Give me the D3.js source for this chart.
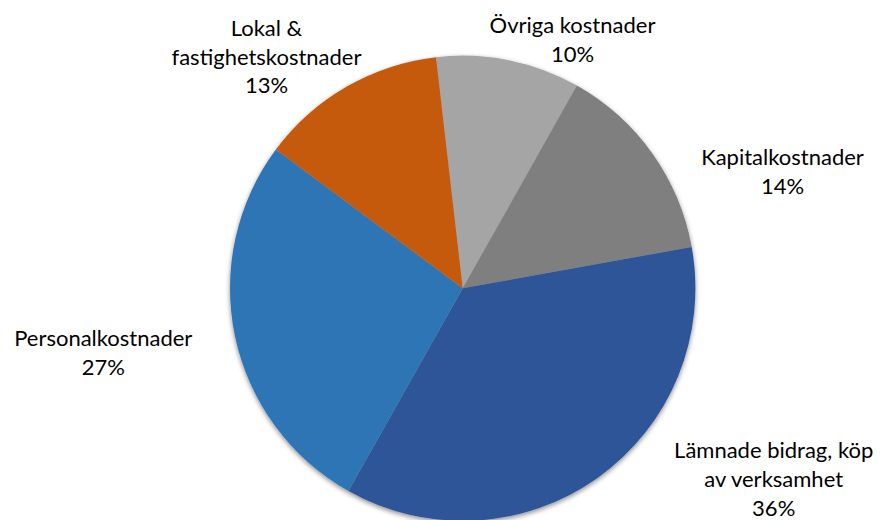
<!DOCTYPE html>
<html>
<head>
<meta charset="utf-8">
<script src="https://cdn.jsdelivr.net/npm/d3@7"></script>
<style>
  html, body { margin: 0; padding: 0; background: #fff; }
  svg { display: block; }
  text { font-family: Lato, "Open Sans", sans-serif; fill: #000; }
</style>
</head>
<body>
<svg id="chart" width="882" height="520"></svg>
<script>
// Cost breakdown, share of total (%)
const categories = [
  "Övriga kostnader",
  "Kapitalkostnader",
  "Lämnade bidrag, köp av verksamhet",
  "Personalkostnader",
  "Lokal & fastighetskostnader"
];
const shares = [10, 14, 36, 27, 13];
const labelLines = [
  ["Övriga kostnader"],
  ["Kapitalkostnader"],
  ["Lämnade bidrag, köp", "av verksamhet"],
  ["Personalkostnader"],
  ["Lokal &", "fastighetskostnader"]
];
const colors = ["#A5A5A5", "#7F7F7F", "#2F5597", "#2E75B6", "#C55A11"];

// Layout
const width = 882, height = 520;
const cx = 462.7, cy = 288.3, radius = 232.7;
const startDeg = -6.6;
const lineHeight = 28.6;
const fontSize = 22;
// label block centre x and first baseline y
const labelAnchors = [
  [572.5, 33.3],
  [782.5, 165],
  [773.7, 458.3],
  [103.3, 346],
  [266.5, 36]
];

const svg = d3.select("#chart");

const defs = svg.append("defs");
const shadow = defs.append("filter")
  .attr("id", "pieShadow")
  .attr("x", "-10%").attr("y", "-10%")
  .attr("width", "120%").attr("height", "120%");
shadow.append("feDropShadow")
  .attr("dx", 0).attr("dy", 2)
  .attr("stdDeviation", 2.5)
  .attr("flood-color", "#000")
  .attr("flood-opacity", 0.45);

const data = categories.map((c, i) => ({ name: c, value: shares[i], lines: labelLines[i], color: colors[i] }));

const startAngle = startDeg * Math.PI / 180;
const pie = d3.pie()
  .sort(null)
  .value(d => d.value)
  .startAngle(startAngle)
  .endAngle(startAngle + 2 * Math.PI);

const arc = d3.arc().innerRadius(0).outerRadius(radius);

const g = svg.append("g")
  .attr("transform", `translate(${cx},${cy})`)
  .attr("filter", "url(#pieShadow)");

g.selectAll("path")
  .data(pie(data))
  .join("path")
  .attr("d", arc)
  .attr("fill", d => d.data.color);

const labels = svg.append("g")
  .selectAll("text")
  .data(data)
  .join("text")
  .attr("text-anchor", "middle")
  .attr("font-size", fontSize)
  .attr("x", (d, i) => labelAnchors[i][0])
  .attr("y", (d, i) => labelAnchors[i][1]);

labels.each(function(d, i) {
  const t = d3.select(this);
  const lines = d.lines.concat([d.value + "%"]);
  lines.forEach((ln, k) => {
    t.append("tspan")
      .attr("x", labelAnchors[i][0])
      .attr("y", labelAnchors[i][1] + k * lineHeight)
      .text(ln);
  });
});
</script>
</body>
</html>
